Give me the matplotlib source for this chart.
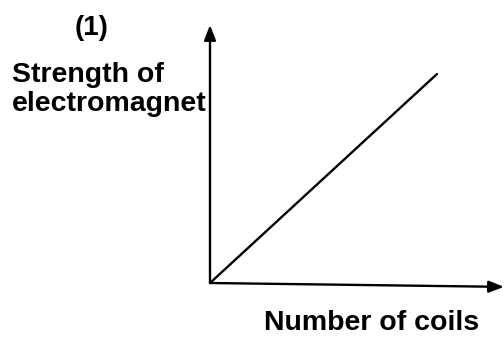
import matplotlib.pyplot as plt

plt.rcParams['font.family'] = ['Liberation Sans', 'DejaVu Sans']

# sketch data: strength grows linearly with number of coils
coils = [0, 10]
strength = [0, 10]

fig = plt.figure(figsize=(5.04, 3.39), dpi=100)
W, H = 504, 339
x0, y0 = 210, 283          # origin in pixels
x1, y1 = 504, 25           # arrow tips
ax = fig.add_axes([x0 / W, (H - y0) / H, (x1 - x0) / W, (y0 - y1) / H])
ax.plot(coils, strength, color='black', linewidth=1.7, solid_capstyle='round')
ax.set_xlim(0, 10 * (x1 - x0) / 227)
ax.set_ylim(0, 10 * (y0 - y1) / 209)
ax.axis('off')

arrow = dict(arrowstyle='-|>,head_length=0.9,head_width=0.35', color='black', lw=1.7,
             shrinkA=0, shrinkB=0)
ax.annotate('', xy=(0, 1), xytext=(0, 0), xycoords='axes fraction', arrowprops=arrow)
ax.annotate('', xy=(1, -0.015), xytext=(0, 0), xycoords='axes fraction', arrowprops=arrow)

fig.text(75 / W, 1 - 28 / H, '(1)', fontsize=20, fontweight='bold', va='center', ha='left')
fig.text(12 / W, 1 - 75 / H, 'Strength of', fontsize=20.5, fontweight='bold', va='center', ha='left')
fig.text(12 / W, 1 - 104 / H, 'electromagnet', fontsize=20.5, fontweight='bold', va='center', ha='left')
fig.text(264 / W, 1 - 323 / H, 'Number of coils', fontsize=20.5, fontweight='bold', va='center', ha='left')

fig.savefig('out.png', dpi=100)
